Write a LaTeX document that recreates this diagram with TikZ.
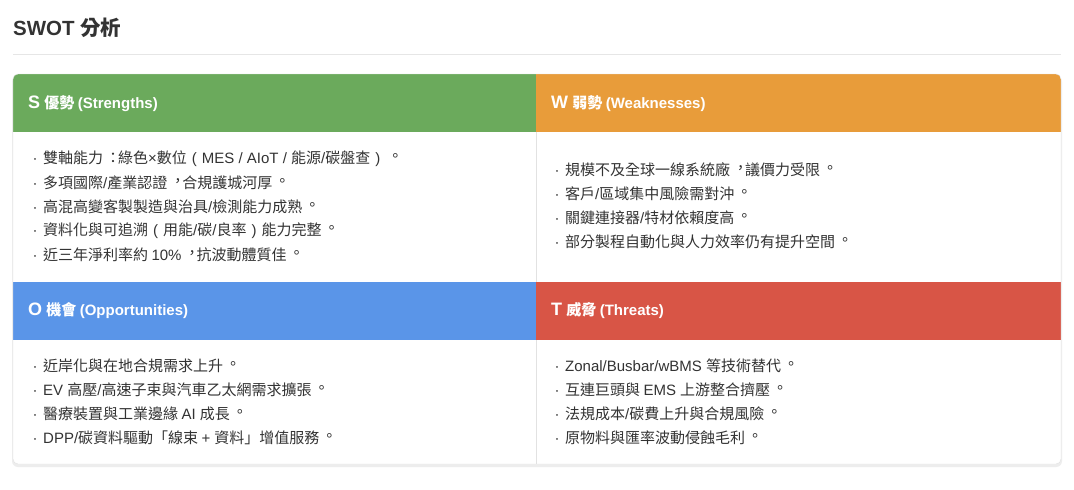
\documentclass[tikz,border=0pt]{standalone}
\usepackage{fontspec}
\setmainfont{Liberation Sans}
\newfontfamily\latfam{Liberation Sans}
\newfontfamily\cjkfam[Script=CJK,Language=Chinese Traditional]{Noto Sans CJK TC}
\usepackage{tikz}

% Latin <-> CJK font switching
\XeTeXinterchartokenstate=1
\newXeTeXintercharclass\cjkclass
\count255="2E80
\loop\XeTeXcharclass\count255=\cjkclass\ifnum\count255<"9FFF\advance\count255 by 1\repeat
\count255="FF00
\loop\XeTeXcharclass\count255=\cjkclass\ifnum\count255<"FFEF\advance\count255 by 1\repeat
\XeTeXinterchartoks 0 \cjkclass={\cjkfam}
\XeTeXinterchartoks 4095 \cjkclass={\cjkfam}
\XeTeXinterchartoks \cjkclass 0={\latfam}
\XeTeXinterchartoks 4095 0={\latfam}

\definecolor{sgreen}{HTML}{6BAA5C}
\definecolor{worange}{HTML}{E89C3A}
\definecolor{oblue}{HTML}{5A95E8}
\definecolor{tred}{HTML}{D85546}
\definecolor{txtgray}{HTML}{333333}
\definecolor{linegray}{HTML}{E6E6E6}
\definecolor{cardline}{HTML}{E2E2E2}

% bullet, parentheses and centred (Taiwan style) punctuation
\newcommand{\pt}{\makebox[10pt]{·}\hspace{3pt}}
\newcommand{\lpar}{\makebox[15pt]{(}}
\newcommand{\rpar}{\makebox[15pt]{)}}
\newcommand{\cma}{\kern3pt\raisebox{2.5pt}{，}\kern-3pt}
\newcommand{\stp}{\kern2.5pt\raisebox{2.5pt}{。}\kern-2.5pt}
\newcommand{\cln}{\kern2.5pt：\kern-2.5pt}

\begin{document}
\begin{tikzpicture}[x=1pt,y=-1pt,
	head/.style={anchor=west,inner sep=0pt,text=white,font=\fontsize{15}{18}\selectfont\bfseries},
	item/.style={anchor=west,inner sep=0pt,text=txtgray,font=\fontsize{15}{18}\selectfont}]
	
	\useasboundingbox[fill=white] (0,0) rectangle (1074,490);
	
	% Заголовок
	\node[anchor=west,inner sep=0pt,text=txtgray,font=\fontsize{20.5}{24}\selectfont\bfseries] (title) at (13,28) {SWOT 分析};
	\draw[linegray] (13,54) -- (1061,54);
	
	% Тень и карточка
	\fill[black!7,rounded corners=6] (12,76) rectangle (1062,467);
	\fill[white,rounded corners=5] (13,74) rectangle (1061,464);
	
	% Цветные шапки
	\begin{scope}
		\clip[rounded corners=5] (13,74) rectangle (1061,464);
		\fill[sgreen] (13,74) rectangle (536,132);
		\fill[worange] (536,74) rectangle (1061,132);
		\fill[oblue] (13,282) rectangle (536,340);
		\fill[tred] (536,282) rectangle (1061,340);
	\end{scope}
	
	% Разделители и контур
	\draw[cardline] (536,132) -- (536,282);
	\draw[cardline] (536,340) -- (536,464);
	\draw[cardline,rounded corners=5] (13,74) rectangle (1061,464);
	
	% S
	\node[head] (sh) at (28,104) {{\fontsize{18}{20}\selectfont S} 優勢 (Strengths)};
	\node[item] (s1) at (30,159) {\pt 雙軸能力\cln 綠色×數位\lpar MES / AIoT / 能源/碳盤查\rpar\stp};
	\node[item] (s2) at (30,183) {\pt 多項國際/產業認證\cma 合規護城河厚\stp};
	\node[item] (s3) at (30,207) {\pt 高混高變客製製造與治具/檢測能力成熟\stp};
	\node[item] (s4) at (30,231) {\pt 資料化與可追溯\lpar 用能/碳/良率\rpar 能力完整\stp};
	\node[item] (s5) at (30,255) {\pt 近三年淨利率約 10\%\cma 抗波動體質佳\stp};
	
	% W
	\node[head] (wh) at (551,104) {{\fontsize{18}{20}\selectfont W} 弱勢 (Weaknesses)};
	\node[item] (w1) at (552,170) {\pt 規模不及全球一線系統廠\cma 議價力受限\stp};
	\node[item] (w2) at (552,194) {\pt 客戶/區域集中風險需對沖\stp};
	\node[item] (w3) at (552,218) {\pt 關鍵連接器/特材依賴度高\stp};
	\node[item] (w4) at (552,242) {\pt 部分製程自動化與人力效率仍有提升空間\stp};
	
	% O
	\node[head] (oh) at (28,311) {{\fontsize{18}{20}\selectfont O} 機會 (Opportunities)};
	\node[item] (o1) at (30,366) {\pt 近岸化與在地合規需求上升\stp};
	\node[item] (o2) at (30,390) {\pt EV 高壓/高速子束與汽車乙太網需求擴張\stp};
	\node[item] (o3) at (30,414) {\pt 醫療裝置與工業邊緣 AI 成長\stp};
	\node[item] (o4) at (30,438) {\pt DPP/碳資料驅動「線束 + 資料」增值服務\stp};
	
	% T
	\node[head] (th) at (551,311) {{\fontsize{18}{20}\selectfont T} 威脅 (Threats)};
	\node[item] (t1) at (552,366) {\pt Zonal/Busbar/wBMS 等技術替代\stp};
	\node[item] (t2) at (552,390) {\pt 互連巨頭與 EMS 上游整合擠壓\stp};
	\node[item] (t3) at (552,414) {\pt 法規成本/碳費上升與合規風險\stp};
	\node[item] (t4) at (552,438) {\pt 原物料與匯率波動侵蝕毛利\stp};
\end{tikzpicture}
\end{document}
